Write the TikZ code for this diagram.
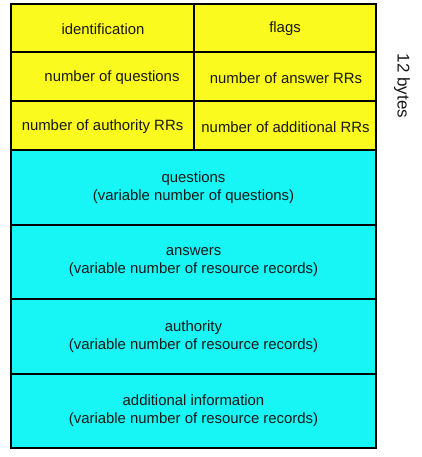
\documentclass[tikz,border=0pt]{standalone}
\usepackage{fontspec}
\setmainfont{Liberation Sans}
\definecolor{hdrfill}{RGB}{250,250,30}
\definecolor{secfill}{RGB}{24,245,245}
\begin{document}
\begin{tikzpicture}[x=1pt,y=-1pt,
  cell/.style={draw=black,line width=2.3pt},
  lbl/.style={font=\fontsize{14.9}{18}\selectfont,align=center,text=black!90}]
\useasboundingbox (0,0) rectangle (422,457);
% header fields (12 bytes)
\filldraw[cell,fill=hdrfill] (11,4) rectangle (194,52);
\filldraw[cell,fill=hdrfill] (194,4) rectangle (376,52);
\filldraw[cell,fill=hdrfill] (11,52) rectangle (194,101);
\filldraw[cell,fill=hdrfill] (194,52) rectangle (376,101);
\filldraw[cell,fill=hdrfill] (11,101) rectangle (194,150);
\filldraw[cell,fill=hdrfill] (194,101) rectangle (376,150);
% variable-length sections
\filldraw[cell,fill=secfill] (11,150) rectangle (376,225);
\filldraw[cell,fill=secfill] (11,225) rectangle (376,299);
\filldraw[cell,fill=secfill] (11,299) rectangle (376,374);
\filldraw[cell,fill=secfill] (11,374) rectangle (376,448);
% labels
\node[lbl] (id) at (103,29) {identification};
\node[lbl] (fl) at (285,29) {flags};
\node[lbl] (nq) at (112,78) {number of questions};
\node[lbl] (na) at (286,78) {number of answer RRs};
\node[lbl] (nau) at (102.5,127) {number of authority RRs};
\node[lbl] (nad) at (285.5,127) {number of additional RRs};
\node[lbl] (q) at (193.5,188) {questions\\(variable number of questions)};
\node[lbl] (an) at (193.5,262) {answers\\(variable number of resource records)};
\node[lbl] (au) at (193.5,337) {authority\\(variable number of resource records)};
\node[lbl] (ad) at (193.5,411) {additional information\\(variable number of resource records)};
\node[lbl,font=\fontsize{17}{20}\selectfont,rotate=-90] (hb) at (402,86) {12 bytes};
\end{tikzpicture}
\end{document}
